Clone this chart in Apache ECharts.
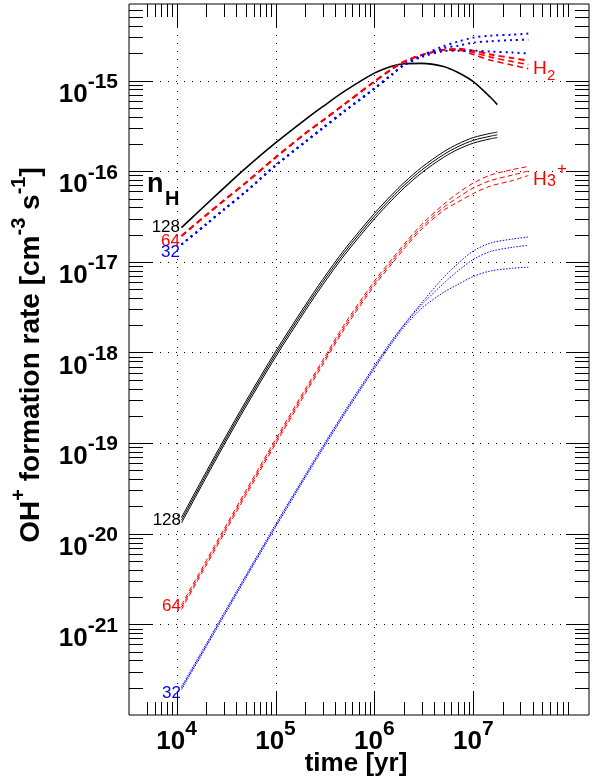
<!DOCTYPE html>
<html>
<head>
<meta charset="UTF-8">
<script src="https://cdn.jsdelivr.net/npm/echarts@6/dist/echarts.min.js"></script>
<style>
  html, body { margin: 0; padding: 0; background: #fff; }
  #main { width: 592px; height: 783px; }
</style>
</head>
<body>
<div id="main"></div>
<script>
// time grid [yr]
var tA = [1.12e4, 2e4, 3e4, 5e4, 1e5, 2e5, 3e5, 5e5, 1e6, 1.5e6, 2e6, 3e6, 5e6, 7e6, 1e7, 1.5e7, 2.5e7, 3.6e7];
var tK = [1.12e4, 2e4, 3e4, 5e4, 1e5, 2e5, 3e5, 5e5, 1e6, 1.5e6, 2e6, 3e6, 5e6, 7e6, 1e7, 1.5e7, 1.75e7];

// H2 channel (upper group), cm^-3 s^-1
var h2n128 = [2.39e-17, 4.32e-17, 6.52e-17, 1.08e-16, 2.05e-16, 3.71e-16, 5.15e-16, 7.64e-16, 1.208e-15, 1.44e-15, 1.535e-15, 1.55e-15, 1.43e-15, 1.23e-15, 9.75e-16, 6.50e-16, 5.43e-16];
var h2n64a = [1.93e-17, 3.29e-17, 4.75e-17, 7.45e-17, 1.416e-16, 2.61e-16, 3.62e-16, 5.51e-16, 9.75e-16, 1.34e-15, 1.62e-15, 1.91e-15, 2.17e-15, 2.24e-15, 2.14e-15, 1.94e-15, 1.77e-15, 1.66e-15];
var h2n64b = [1.93e-17, 3.29e-17, 4.75e-17, 7.45e-17, 1.416e-16, 2.61e-16, 3.62e-16, 5.51e-16, 9.75e-16, 1.34e-15, 1.62e-15, 1.91e-15, 2.17e-15, 2.21e-15, 2.04e-15, 1.815e-15, 1.62e-15, 1.50e-15];
var h2n64c = [1.93e-17, 3.29e-17, 4.75e-17, 7.45e-17, 1.416e-16, 2.61e-16, 3.62e-16, 5.51e-16, 9.75e-16, 1.34e-15, 1.62e-15, 1.91e-15, 2.17e-15, 2.17e-15, 1.94e-15, 1.68e-15, 1.48e-15, 1.355e-15];
var h2n32a = [1.556e-17, 2.61e-17, 3.77e-17, 5.94e-17, 1.156e-16, 2.11e-16, 2.99e-16, 4.61e-16, 8.16e-16, 1.164e-15, 1.50e-15, 1.89e-15, 2.40e-15, 2.69e-15, 2.98e-15, 3.13e-15, 3.21e-15, 3.30e-15];
var h2n32b = [1.556e-17, 2.61e-17, 3.77e-17, 5.94e-17, 1.156e-16, 2.11e-16, 2.99e-16, 4.61e-16, 8.16e-16, 1.164e-15, 1.50e-15, 1.86e-15, 2.28e-15, 2.43e-15, 2.62e-15, 2.72e-15, 2.80e-15, 2.83e-15];
var h2n32c = [1.556e-17, 2.61e-17, 3.77e-17, 5.94e-17, 1.156e-16, 2.11e-16, 2.99e-16, 4.61e-16, 8.16e-16, 1.164e-15, 1.48e-15, 1.815e-15, 2.11e-15, 2.14e-15, 2.14e-15, 2.09e-15, 2.04e-15, 1.99e-15];

// H3+ channel (lower group)
var h3n128a = [1.51e-20, 4.86e-20, 1.083e-19, 2.88e-19, 1.022e-18, 3.32e-18, 6.39e-18, 1.372e-17, 3.42e-17, 5.50e-17, 7.51e-17, 1.102e-16, 1.634e-16, 2.0e-16, 2.35e-16, 2.62e-16, 2.70e-16];
var h3n128b = [1.41e-20, 4.53e-20, 1.01e-19, 2.69e-19, 9.53e-19, 3.10e-18, 5.96e-18, 1.28e-17, 3.19e-17, 5.13e-17, 7.01e-17, 1.028e-16, 1.524e-16, 1.866e-16, 2.19e-16, 2.44e-16, 2.52e-16];
var h3n128c = [1.315e-20, 4.23e-20, 9.42e-20, 2.51e-19, 8.89e-19, 2.89e-18, 5.56e-18, 1.194e-17, 2.98e-17, 4.79e-17, 6.54e-17, 9.59e-17, 1.422e-16, 1.741e-16, 2.04e-16, 2.28e-16, 2.35e-16];
var h3n64a = [1.64e-21, 5.08e-21, 1.115e-20, 2.97e-20, 1.097e-19, 3.94e-19, 8.19e-19, 2.06e-18, 6.13e-18, 1.07e-17, 1.57e-17, 2.58e-17, 4.30e-17, 5.75e-17, 7.41e-17, 9.08e-17, 1.044e-16, 1.127e-16];
var h3n64b = [1.545e-21, 4.79e-21, 1.052e-20, 2.80e-20, 1.035e-19, 3.72e-19, 7.73e-19, 1.94e-18, 5.78e-18, 1.009e-17, 1.479e-17, 2.43e-17, 3.98e-17, 5.13e-17, 6.53e-17, 7.89e-17, 9.08e-17, 1.005e-16];
var h3n64c = [1.46e-21, 4.52e-21, 9.92e-21, 2.64e-20, 9.76e-20, 3.51e-19, 7.29e-19, 1.83e-18, 5.45e-18, 9.52e-18, 1.395e-17, 2.29e-17, 3.69e-17, 4.57e-17, 5.68e-17, 6.87e-17, 7.89e-17, 8.98e-17];
var h3n32a = [2.06e-22, 6.14e-22, 1.324e-21, 3.47e-21, 1.268e-20, 4.48e-20, 9.25e-20, 2.25e-19, 7.14e-19, 1.36e-18, 2.04e-18, 3.52e-18, 6.73e-18, 9.59e-18, 1.318e-17, 1.615e-17, 1.787e-17, 1.88e-17];
var h3n32b = [1.98e-22, 5.90e-22, 1.273e-21, 3.34e-21, 1.219e-20, 4.31e-20, 8.89e-20, 2.16e-19, 6.87e-19, 1.31e-18, 2.01e-18, 3.35e-18, 5.78e-18, 7.94e-18, 1.062e-17, 1.303e-17, 1.449e-17, 1.52e-17];
var h3n32c = [1.90e-22, 5.67e-22, 1.224e-21, 3.21e-21, 1.172e-20, 4.14e-20, 8.55e-20, 2.08e-19, 6.61e-19, 1.26e-18, 1.91e-18, 3.06e-18, 4.60e-18, 5.64e-18, 6.90e-18, 7.94e-18, 8.50e-18, 8.75e-18];

// axis ranges and labelled decades
var xMin = 3.3e3, xMax = 1.48e8;
var yMin = 1e-22, yMax = 7e-15;
var xLabelExps = [4, 5, 6, 7];
var yLabelExps = [-15, -16, -17, -18, -19, -20, -21];

// echarts rounds tiny axis limits to 0, so the y axis runs in units of 1e-22
var Y_EXP = 22;
var Y_SCALE = Math.pow(10, Y_EXP);
function ys(v) { return v * Y_SCALE; }

var FONT = '"Liberation Sans", Arial, Helvetica, sans-serif';

function pairs(t, v) {
    var out = [];
    for (var i = 0; i < v.length; i++) out.push([t[i], ys(v[i])]);
    return out;
}

// tick positions (majors at decades, minors at 2..9)
var xTicks = [], yTicks = [];
for (var e = 3; e <= 7; e++) {
    if (xLabelExps.indexOf(e) >= 0) xTicks.push([Math.pow(10, e), ys(yMin), 1]);
    for (var k = 2; k <= 9; k++) {
        var v = k * Math.pow(10, e);
        if (v >= 4.5e3 && v < xMax) xTicks.push([v, ys(yMin), 0]);
    }
}
for (var e = -22; e <= -15; e++) {
    if (yLabelExps.indexOf(e) >= 0) yTicks.push([xMin, ys(Math.pow(10, e)), 1]);
    for (var k = 2; k <= 9; k++) {
        var v = k * Math.pow(10, e);
        if (v < yMax) yTicks.push([xMin, ys(v), 0]);
    }
}

function px(a) { return Math.round(a) + 0.5; }

function renderXTick(params, api) {
    var b = api.coord([api.value(0), ys(yMin)]);
    var t = api.coord([api.value(0), ys(yMax)]);
    var major = api.value(2);
    var len = major ? 23 : 13;
    var x = px(b[0]);
    var st = { stroke: '#000', lineWidth: 1 };
    var ch = [
        { type: 'line', shape: { x1: x, y1: b[1], x2: x, y2: b[1] - len }, style: st },
        { type: 'line', shape: { x1: x, y1: t[1], x2: x, y2: t[1] + len }, style: st }
    ];
    if (major) ch.push({ type: 'line', shape: { x1: x, y1: b[1] - len, x2: x, y2: t[1] + len },
        style: { stroke: '#000', lineWidth: 1, lineDash: [1, 7] } });
    return { type: 'group', children: ch };
}

function renderYTick(params, api) {
    var l = api.coord([xMin, api.value(1)]);
    var r = api.coord([xMax, api.value(1)]);
    var major = api.value(2);
    var len = major ? 23 : 14;
    var y = px(l[1]);
    var st = { stroke: '#000', lineWidth: 1 };
    var ch = [
        { type: 'line', shape: { x1: l[0], y1: y, x2: l[0] + len, y2: y }, style: st },
        { type: 'line', shape: { x1: r[0], y1: y, x2: r[0] - len, y2: y }, style: st }
    ];
    if (major) ch.push({ type: 'line', shape: { x1: l[0] + len, y1: y, x2: r[0] - len, y2: y },
        style: { stroke: '#000', lineWidth: 1, lineDash: [1, 7] } });
    return { type: 'group', children: ch };
}

function powLabel(list, offset) {
    return function (v) {
        var lg = Math.log10(v);
        var e = Math.round(lg);
        if (Math.abs(lg - e) > 0.01) return '';
        e -= offset;
        if (list.indexOf(e) < 0) return '';
        return '{b|10}{s|' + e + '}';
    };
}

var labelRich = {
    b: { fontFamily: FONT, fontWeight: 'bold', fontSize: 26, lineHeight: 36, verticalAlign: 'bottom', color: '#000' },
    s: { fontFamily: FONT, fontWeight: 'bold', fontSize: 21, lineHeight: 20, verticalAlign: 'top', color: '#000' }
};

function line(name, t, v, color, width, type) {
    return {
        name: name, type: 'line', data: pairs(t, v), showSymbol: false, smooth: 0.3,
        lineStyle: { color: color, width: width, type: type }, z: 3, silent: true
    };
}

var RED = '#ff0000', BLUE = '#0000ff', BLACK = '#000000';

var chart = echarts.init(document.getElementById('main'));
var option = {
    animation: false,
    backgroundColor: '#fff',
    grid: { left: 129, right: 0, top: 4, bottom: 68, show: true, borderColor: '#000', borderWidth: 1, backgroundColor: 'transparent' },
    xAxis: {
        type: 'log', min: xMin, max: xMax, splitNumber: 5,
        axisLine: { show: false }, axisTick: { show: false }, splitLine: { show: false },
        axisLabel: { formatter: powLabel(xLabelExps, 0), rich: labelRich, margin: 4, hideOverlap: false }
    },
    yAxis: {
        type: 'log', min: ys(yMin), max: ys(yMax), interval: 1,
        axisLine: { show: false }, axisTick: { show: false }, splitLine: { show: false },
        axisLabel: { formatter: powLabel(yLabelExps, Y_EXP), rich: labelRich, margin: 11, padding: [18, 0, 0, 0], hideOverlap: false }
    },
    series: [
        { type: 'custom', data: xTicks, renderItem: renderXTick, z: 1, silent: true, clip: false },
        { type: 'custom', data: yTicks, renderItem: renderYTick, z: 1, silent: true, clip: false },
        line('H2 128', tK, h2n128, BLACK, 1.6, 'solid'),
        line('H2 64a', tA, h2n64a, RED, 2, [6, 4]),
        line('H2 64b', tA, h2n64b, RED, 1.6, [6, 4]),
        line('H2 64c', tA, h2n64c, RED, 1.6, [6, 4]),
        line('H2 32a', tA, h2n32a, BLUE, 2, [2, 4]),
        line('H2 32b', tA, h2n32b, BLUE, 2, [2, 4]),
        line('H2 32c', tA, h2n32c, BLUE, 2, [2, 4]),
        line('H3 128a', tK, h3n128a, BLACK, 1, 'solid'),
        line('H3 128b', tK, h3n128b, BLACK, 1, 'solid'),
        line('H3 128c', tK, h3n128c, BLACK, 1, 'solid'),
        line('H3 64a', tA, h3n64a, RED, 1, [5, 3]),
        line('H3 64b', tA, h3n64b, RED, 1, [5, 3]),
        line('H3 64c', tA, h3n64c, RED, 1, [5, 3]),
        line('H3 32a', tA, h3n32a, BLUE, 1, [1.5, 1.5]),
        line('H3 32b', tA, h3n32b, BLUE, 1, [1.5, 1.5]),
        line('H3 32c', tA, h3n32c, BLUE, 1, [1.5, 1.5])
    ],
    graphic: [
        { type: 'text', x: 356, y: 764, z: 10, style: { text: 'time [yr]', font: 'bold 26px ' + FONT, fill: '#000', align: 'center', verticalAlign: 'middle' } },
        { type: 'text', x: 27, y: 355, rotation: Math.PI / 2, z: 10, style: {
            text: '{n|OH}{s|+}{n| formation rate [cm}{s|-3}{n| s}{s|-1}{n|]}',
            align: 'center', verticalAlign: 'middle', fill: '#000',
            rich: {
                n: { fontFamily: FONT, fontWeight: 'bold', fontSize: 28, lineHeight: 36, verticalAlign: 'bottom' },
                s: { fontFamily: FONT, fontWeight: 'bold', fontSize: 20, lineHeight: 20, verticalAlign: 'top' }
            } } },
        { type: 'text', x: 147, y: 184.6, z: 10, style: { text: 'n', font: 'bold 27px ' + FONT, fill: '#000', align: 'left', verticalAlign: 'middle' } },
        { type: 'text', x: 165, y: 199, z: 10, style: { text: 'H', font: 'bold 20px ' + FONT, fill: '#000', align: 'left', verticalAlign: 'middle' } },
        { type: 'text', x: 180, y: 227.5, z: 10, style: { text: '128', font: '17px ' + FONT, fill: BLACK, align: 'right', verticalAlign: 'middle' } },
        { type: 'text', x: 180, y: 241, z: 10, style: { text: '64', font: '17px ' + FONT, fill: RED, align: 'right', verticalAlign: 'middle' } },
        { type: 'text', x: 180, y: 252.5, z: 10, style: { text: '32', font: '17px ' + FONT, fill: BLUE, align: 'right', verticalAlign: 'middle' } },
        { type: 'text', x: 181, y: 520, z: 10, style: { text: '128', font: '17px ' + FONT, fill: BLACK, align: 'right', verticalAlign: 'middle' } },
        { type: 'text', x: 181, y: 606, z: 10, style: { text: '64', font: '17px ' + FONT, fill: RED, align: 'right', verticalAlign: 'middle' } },
        { type: 'text', x: 181, y: 693, z: 10, style: { text: '32', font: '17px ' + FONT, fill: BLUE, align: 'right', verticalAlign: 'middle' } },
        { type: 'text', x: 533, y: 68.5, z: 10, style: { text: 'H', font: '19px ' + FONT, fill: RED, align: 'left', verticalAlign: 'middle' } },
        { type: 'text', x: 547, y: 76, z: 10, style: { text: '2', font: '15px ' + FONT, fill: RED, align: 'left', verticalAlign: 'middle' } },
        { type: 'text', x: 533, y: 180, z: 10, style: { text: 'H', font: '19px ' + FONT, fill: RED, align: 'left', verticalAlign: 'middle' } },
        { type: 'text', x: 547, y: 182, z: 10, style: { text: '3', font: '16px ' + FONT, fill: RED, align: 'left', verticalAlign: 'middle' } },
        { type: 'text', x: 557, y: 169.5, z: 10, style: { text: '+', font: '17px ' + FONT, fill: RED, align: 'left', verticalAlign: 'middle' } }
    ]
};
chart.setOption(option);
</script>
</body>
</html>
